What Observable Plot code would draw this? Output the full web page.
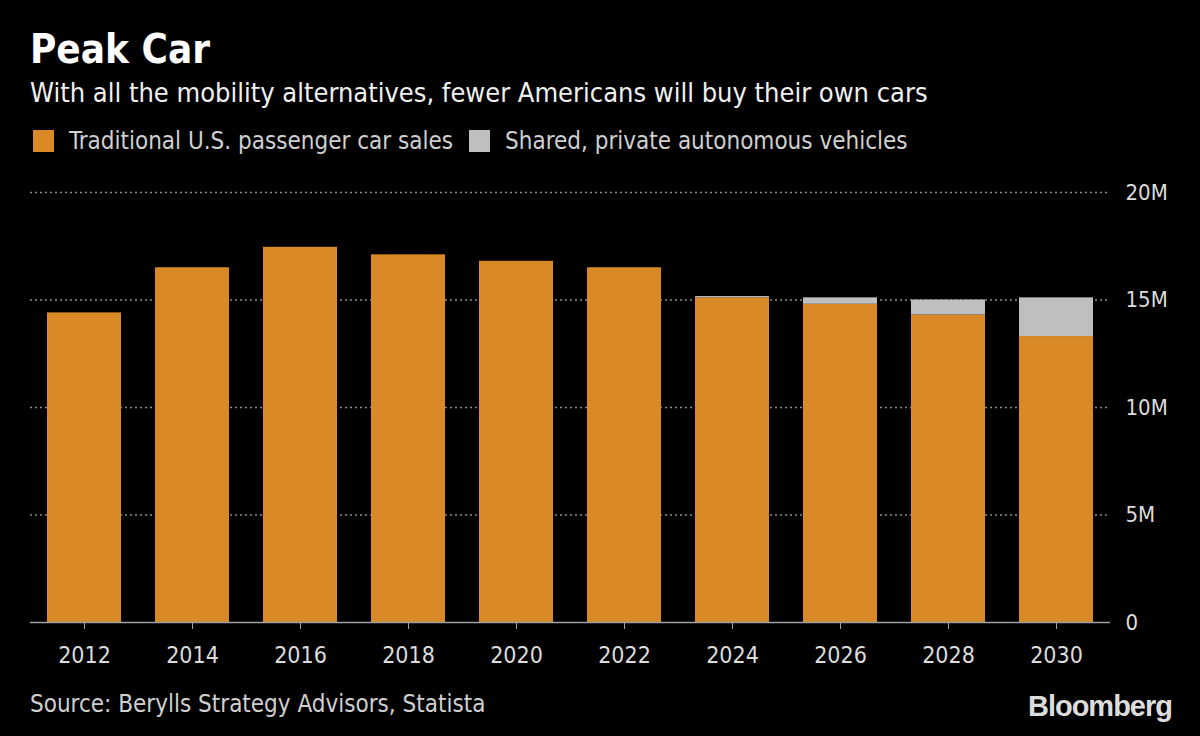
<!DOCTYPE html>
<html>
<head>
<meta charset="utf-8">
<script src="https://cdn.jsdelivr.net/npm/d3@7"></script>
<script src="https://cdn.jsdelivr.net/npm/@observablehq/plot@0.6"></script>
<style>
  html, body { margin: 0; padding: 0; background: #000; }
  #wrap { position: relative; width: 1200px; height: 736px; background: #000; overflow: hidden;
          font-family: "DejaVu Sans Condensed", "Liberation Sans Narrow", sans-serif; }
  #title { position: absolute; left: 30px; top: 27px; font-size: 40px; line-height: 44px; font-weight: bold; color: #fff; }
  #subtitle { position: absolute; left: 30px; top: 77px; font-size: 27px; line-height: 32px; color: #f0f0f0; }
  #legend { position: absolute; left: 33px; top: 128px; font-size: 24px; line-height: 26px; color: #cfcfcf; display: flex; align-items: center; }
  .sw { display: inline-block; width: 21px; height: 22px; margin-right: 15px; }
  .item { display: flex; align-items: center; margin-right: 16px; }
  #chart { position: absolute; left: 0; top: 170px; }
  #source { position: absolute; left: 30px; top: 690px; font-size: 24px; line-height: 28px; color: #cfcfcf; }
  #logo { position: absolute; right: 28px; top: 690px; font-family: "Liberation Sans", Arial, sans-serif;
          font-weight: bold; font-size: 29px; line-height: 32px; color: #dcdcdc; letter-spacing: -1px; }
</style>
</head>
<body>
<div id="wrap">
  <div id="title">Peak Car</div>
  <div id="subtitle">With all the mobility alternatives, fewer Americans will buy their own cars</div>
  <div id="legend"></div>
  <div id="chart"></div>
  <div id="source">Source: Berylls Strategy Advisors, Statista</div>
  <div id="logo">Bloomberg</div>
</div>
<script>
const years = ["2012","2014","2016","2018","2020","2022","2024","2026","2028","2030"];
const traditional = [14.4, 16.5, 17.45, 17.1, 16.8, 16.5, 15.1, 14.8, 14.3, 13.3];
const shared = [0, 0, 0, 0, 0, 0, 0.06, 0.3, 0.7, 1.8];
const seriesNames = ["Traditional U.S. passenger car sales", "Shared, private autonomous vehicles"];
const seriesColors = ["#d98a26", "#bfbfbf"];
const yTicks = [0, 5, 10, 15, 20];

const data = [];
years.forEach((y, i) => {
  data.push({year: y, series: seriesNames[0], value: traditional[i]});
  data.push({year: y, series: seriesNames[1], value: shared[i]});
});

const legend = document.getElementById("legend");
seriesNames.forEach((n, i) => {
  const it = document.createElement("div");
  it.className = "item";
  it.innerHTML = `<span class="sw" style="background:${seriesColors[i]}"></span><span>${n}</span>`;
  legend.appendChild(it);
});

const chart = Plot.plot({
  width: 1200,
  height: 520,
  marginLeft: 30,
  marginRight: 90,
  marginTop: 22,
  marginBottom: 68,
  style: {background: "#000", color: "#dcdcdc", fontFamily: "'DejaVu Sans Condensed', 'Liberation Sans Narrow', sans-serif", fontSize: "22px"},
  x: {domain: years, paddingInner: 0.315, paddingOuter: 0.1575, align: 0.5, label: null},
  y: {domain: [0, 20], label: null},
  color: {domain: seriesNames, range: seriesColors},
  marks: [
    Plot.gridY([5, 10, 15, 20], {stroke: "#8a8a8a", strokeOpacity: 1, strokeWidth: 1.5, strokeDasharray: "2,3"}),
    Plot.barY(data, {x: "year", y: "value", fill: "series", order: seriesNames}),
    Plot.ruleY([0], {stroke: "#a0a0a0", strokeWidth: 1.5}),
    Plot.axisX({tickSize: 7, tickPadding: 17, stroke: "#a0a0a0", fill: "#dcdcdc", fontSize: 23, label: null}),
    Plot.axisY(yTicks, {anchor: "right", tickSize: 0, tickPadding: 15, textAnchor: "start",
      tickFormat: d => d === 0 ? "0" : d + "M", fill: "#dcdcdc", fontSize: 22, label: null})
  ]
});
document.getElementById("chart").appendChild(chart);
</script>
</body>
</html>
